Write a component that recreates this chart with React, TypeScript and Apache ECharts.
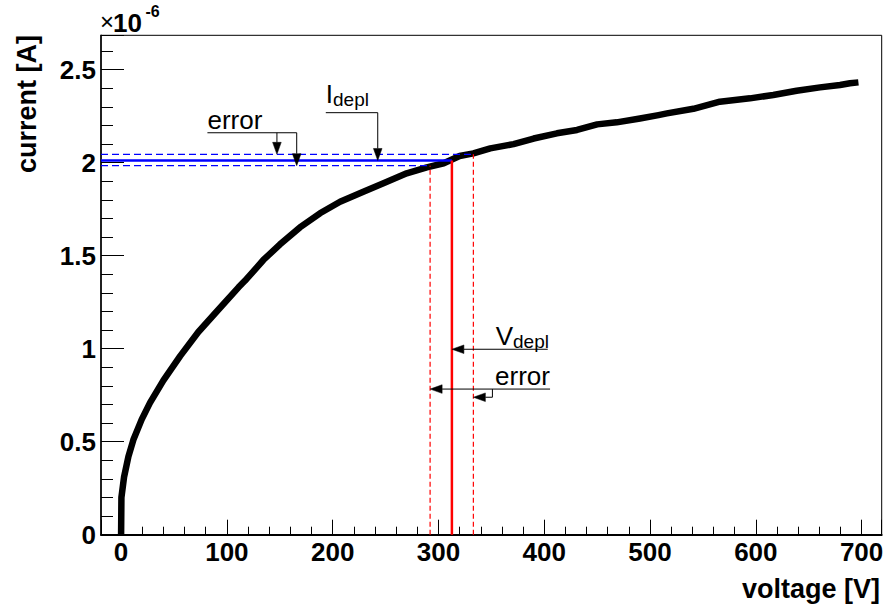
import React, { useEffect, useRef } from 'react';
import * as echarts from 'echarts';

// I-V curve (current in units of 1e-6 A)
const voltage = [0, 0.3, 2.8, 6.9, 11.6, 19.5, 27.4, 40, 55.8, 73, 90.4, 111, 117, 134.5, 150, 169, 188, 207, 229, 248, 270, 289, 305, 320, 333, 349, 371, 390, 412, 431, 450, 468.5, 490.5, 508, 516, 541, 566, 594.5, 616.5, 638.6, 660.7, 679.6, 689, 697];
const current = [0, 0.2, 0.31, 0.42, 0.51, 0.62, 0.71, 0.83, 0.96, 1.09, 1.2, 1.33, 1.365, 1.477, 1.56, 1.652, 1.728, 1.79, 1.844, 1.889, 1.943, 1.975, 1.997, 2.036, 2.05, 2.077, 2.1, 2.13, 2.158, 2.176, 2.206, 2.217, 2.238, 2.256, 2.265, 2.29, 2.328, 2.346, 2.364, 2.387, 2.405, 2.418, 2.427, 2.432];

// depletion point and its errors
const vDepl = 312.7;
const vDeplLow = 292.1;
const vDeplHigh = 333.0;
const iDepl = 2.012;
const iDeplLow = 1.984;
const iDeplHigh = 2.045;

// axis ranges
const xMin = -19;
const xMax = 719;
const yMin = 0;
const yMax = 2.685;

// annotation arrows (data coordinates, arrow head at last point)
const arrowPaths: number[][][] = [
  [[193.5, 2.269], [242.6, 2.269], [242.6, iDepl]],
  [[81.6, 2.161], [166, 2.161], [166, iDeplLow]],
  [[147.3, 2.161], [147.3, iDeplHigh]],
  [[403.3, 0.997], [vDepl, 0.997]],
  [[405.5, 0.783], [vDeplLow, 0.783]],
  [[351, 0.783], [351, 0.739], [vDeplHigh, 0.739]],
];

// annotation texts (left end of baseline in data coordinates)
const noteTexts = ['I', 'error', 'V', 'error'];
const noteSubs = ['depl', '', 'depl', ''];
const noteV = [193.5, 81.6, 354.1, 353.5];
const noteI = [2.319, 2.18, 1.02, 0.805];

const FONT = '"Liberation Sans", Arial, Helvetica, sans-serif';
const MAIN = 26;
const SUB = 19;

function measure(text: string, font: string): number {
  const ctx = document.createElement('canvas').getContext('2d');
  if (!ctx) return text.length * 10;
  ctx.font = font;
  return ctx.measureText(text).width;
}

function txtStyle(text: string, size: number, weight: string, align: string, color = '#000') {
  return {
    text,
    font: `${weight} ${size}px ${FONT}`,
    fontSize: size,
    fontFamily: FONT,
    fontWeight: weight,
    fill: color,
    align,
    verticalAlign: 'middle',
    textAlign: align,
    textVerticalAlign: 'middle',
  } as any;
}

export default function App() {
  const ref = useRef<HTMLDivElement>(null);
  useEffect(() => {
    document.body.style.margin = '0';
    if (!ref.current) return;
    const chart = echarts.init(ref.current, undefined, { renderer: 'svg' });
    const curveData = voltage.map((v, i) => [v, current[i]]);
    const option: any = {
      animation: false,
      backgroundColor: '#fff',
      grid: {
        left: 101,
        top: 35.3,
        right: 3.3,
        bottom: 77.3,
        show: true,
        borderColor: '#000',
        borderWidth: 1,
        backgroundColor: 'transparent',
        containLabel: false,
        outerBoundsMode: 'none',
      },
      xAxis: {
        type: 'value',
        min: xMin,
        max: xMax,
        minInterval: 100,
        maxInterval: 100,
        splitLine: { show: false },
        axisLine: { show: true, onZero: false, lineStyle: { color: '#000', width: 2 } },
        axisTick: { show: true, inside: true, length: 15, lineStyle: { color: '#000', width: 1 } },
        minorTick: { show: true, splitNumber: 5, length: 8, lineStyle: { color: '#000', width: 1 } },
        axisLabel: {
          showMinLabel: false,
          showMaxLabel: false,
          color: '#000',
          fontSize: MAIN,
          fontWeight: 'bold',
          fontFamily: FONT,
          margin: 4,
        },
      },
      yAxis: {
        type: 'value',
        min: yMin,
        max: yMax,
        minInterval: 0.5,
        maxInterval: 0.5,
        splitLine: { show: false },
        axisLine: { show: true, onZero: false, lineStyle: { color: '#000', width: 1.5 } },
        axisTick: { show: true, inside: true, length: 23, lineStyle: { color: '#000', width: 1 } },
        minorTick: { show: true, splitNumber: 5, length: 12, lineStyle: { color: '#000', width: 1 } },
        axisLabel: {
          showMaxLabel: false,
          color: '#000',
          fontSize: MAIN,
          fontWeight: 'bold',
          fontFamily: FONT,
          margin: 5,
        },
      },
      graphic: [
        { type: 'text', id: 'times', x: 100, y: 21.7, style: txtStyle('\u00d7', 24, 'normal', 'left') },
        { type: 'text', id: 'ten', x: 113, y: 22.6, style: txtStyle('10', 26, 'bold', 'left') },
        { type: 'text', id: 'exp', x: 145.5, y: 11.1, style: txtStyle('-6', 16, 'bold', 'left') },
        { type: 'text', id: 'ytitle', x: 27, y: 35, rotation: Math.PI / 2, style: txtStyle('current [A]', 27, 'bold', 'right') },
        { type: 'text', id: 'xtitle', x: 880, y: 588.5, style: txtStyle('voltage [V]', 27, 'bold', 'right') },
      ],
      series: [
        {
          type: 'line',
          data: curveData,
          showSymbol: false,
          silent: true,
          z: 2,
          lineStyle: { color: '#000', width: 6.5, join: 'round', cap: 'butt' },
        },
        {
          type: 'line',
          data: [[xMin, iDeplHigh], [vDeplHigh, iDeplHigh]],
          showSymbol: false, silent: true, z: 3,
          lineStyle: { color: '#0000ff', width: 1.2, type: [7, 4] },
        },
        {
          type: 'line',
          data: [[xMin, iDeplLow], [vDeplLow, iDeplLow]],
          showSymbol: false, silent: true, z: 3,
          lineStyle: { color: '#0000ff', width: 1.2, type: [7, 4] },
        },
        {
          type: 'line',
          data: [[vDeplLow, 0], [vDeplLow, iDeplLow]],
          showSymbol: false, silent: true, z: 3,
          lineStyle: { color: '#ff0000', width: 1.2, type: [5, 3] },
        },
        {
          type: 'line',
          data: [[vDeplHigh, 0], [vDeplHigh, iDeplHigh]],
          showSymbol: false, silent: true, z: 3,
          lineStyle: { color: '#ff0000', width: 1.2, type: [5, 3] },
        },
        {
          type: 'line',
          data: [[xMin, iDepl], [vDepl, iDepl]],
          showSymbol: false, silent: true, z: 4,
          lineStyle: { color: '#0000ff', width: 2.5 },
        },
        {
          type: 'line',
          data: [[vDepl, 0], [vDepl, iDepl]],
          showSymbol: false, silent: true, z: 4,
          lineStyle: { color: '#ff0000', width: 2.5 },
        },
        {
          type: 'custom',
          silent: true,
          z: 5,
          clip: false,
          data: arrowPaths.map((p) => [p[0][0], p[0][1]]),
          encode: { x: 0, y: 1 },
          renderItem: (params: any, api: any) => {
            const pts = arrowPaths[params.dataIndex].map((p) => api.coord(p));
            const n = pts.length;
            const tip = pts[n - 1];
            const prev = pts[n - 2];
            const dx = tip[0] - prev[0];
            const dy = tip[1] - prev[1];
            const len = Math.hypot(dx, dy) || 1;
            const ux = dx / len;
            const uy = dy / len;
            const L = 12;
            const W = 4.3;
            const base = [tip[0] - ux * L, tip[1] - uy * L];
            const left = [base[0] - uy * W, base[1] + ux * W];
            const right = [base[0] + uy * W, base[1] - ux * W];
            return {
              type: 'group',
              children: [
                {
                  type: 'polyline',
                  shape: { points: pts.slice(0, n - 1).concat([base]) },
                  style: { stroke: '#000', lineWidth: 1, fill: null },
                },
                {
                  type: 'polygon',
                  shape: { points: [tip, left, right] },
                  style: { fill: '#000', stroke: '#000', lineWidth: 0.5 },
                },
              ],
            };
          },
        },
        {
          type: 'custom',
          silent: true,
          z: 6,
          clip: false,
          data: noteV.map((v, k) => [v, noteI[k]]),
          encode: { x: 0, y: 1 },
          renderItem: (params: any, api: any) => {
            const k = params.dataIndex;
            const pt = api.coord([noteV[k], noteI[k]]);
            const children: any[] = [
              { type: 'text', x: pt[0], y: pt[1] - 0.35 * MAIN, style: txtStyle(noteTexts[k], MAIN, 'normal', 'left') },
            ];
            if (noteSubs[k]) {
              const w = measure(noteTexts[k], `${MAIN}px ${FONT}`);
              children.push({
                type: 'text',
                x: pt[0] + w,
                y: pt[1] + 3 - 0.35 * SUB,
                style: txtStyle(noteSubs[k], SUB, 'normal', 'left'),
              });
            }
            return { type: 'group', children };
          },
        },
      ],
    };
    chart.setOption(option);
    return () => chart.dispose();
  }, []);
  return <div ref={ref} style={{ width: 885, height: 612 }} />;
}
